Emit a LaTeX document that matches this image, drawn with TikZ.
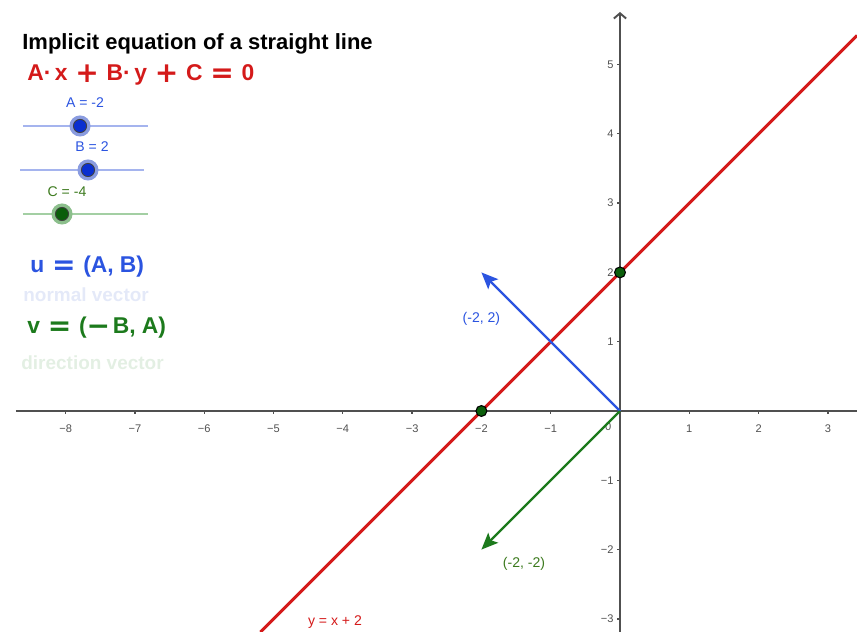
\documentclass[tikz,border=0pt]{standalone}
\usepackage[no-math]{fontspec}
\setmainfont{Liberation Sans}
\newfontfamily\opfont{DejaVu Sans}
\usetikzlibrary{arrows.meta}

\definecolor{axisgray}{HTML}{505050}
\definecolor{ggred}{HTML}{D41A1A}
\definecolor{ggblue}{HTML}{2B54E0}
\definecolor{gggreen}{HTML}{1C7A1C}
\definecolor{ptgreen}{HTML}{0B5E0B}
\definecolor{lineblue}{HTML}{A5B4EE}
\definecolor{linegreen}{HTML}{A3CFA3}
\definecolor{knobblue}{HTML}{0A2FD0}
\definecolor{haloblue}{HTML}{8A9CE0}
\definecolor{halogreen}{HTML}{8CBF8C}
\definecolor{fadeblue}{HTML}{E4E9F8}
\definecolor{fadegreen}{HTML}{E3EFE3}
\definecolor{labelgreen}{HTML}{3C7A1E}

% wide bold operators for the formulas
\newcommand{\opgap}{\hspace{4.4pt}}
\newcommand{\opsym}[1]{\raisebox{-1.1pt}{\opfont\bfseries\fontsize{16}{16}\selectfont #1}}
\newcommand{\bplus}{\opgap\opsym{+}\opgap}
\newcommand{\beq}{\opgap\opsym{=}\opgap}
\newcommand{\bminus}{\opsym{−}\hspace{1.5pt}}

\begin{document}
\begin{tikzpicture}[
  x=1.386cm, y=1.386cm,
  every node/.style={font=\fontsize{8}{9.6}\selectfont, inner sep=0pt},
  axis/.style={draw=axisgray, line width=1.1pt},
  tick/.style={draw=axisgray, line width=0.7pt},
  ticklabel/.style={font=\fontsize{6.3}{7.5}\selectfont, text=axisgray},
  redline/.style={draw=ggred, line width=1.7pt},
  vec/.style={line width=1.3pt, -{Stealth[length=9.5pt, width=8pt, inset=2pt]}},
  pt/.style={circle, draw=black, fill=ptgreen, line width=0.6pt, minimum size=6.2pt},
  halo/.style={circle, minimum size=12pt},
  knob/.style={circle, draw=black!75, line width=0.5pt, minimum size=7.5pt},
  slider/.style={line width=1.1pt},
  bigtext/.style={font=\bfseries\fontsize{13}{15}\selectfont, anchor=west},
  fadetext/.style={font=\bfseries\fontsize{10.8}{12}\selectfont, anchor=west}
]

% Page frame
\useasboundingbox (-8.947, -3.189) rectangle (3.420, 5.931);

% Axes
\coordinate (xl) at (-8.716, 0);
\coordinate (xr) at (3.420, 0);
\coordinate (yb) at (0, -3.189);
\coordinate (yt) at (0, 5.758);
\draw[axis] (xl) -- (xr);
\draw[axis, -{Straight Barb[length=3pt, width=7pt]}] (yb) -- (yt);

% Ticks and tick labels
\foreach \x/\t in {-8/−8, -7/−7, -6/−6, -5/−5, -4/−4, -3/−3, -2/−2, -1/−1, 1/1, 2/2, 3/3} {
  \draw[tick] (\x, 0) -- (\x, -0.05);
  \node[ticklabel] (xt\x) at (\x, -0.25) {\t};
}
\foreach \y/\t in {-3/−3, -2/−2, -1/−1, 1/1, 2/2, 3/3, 4/4, 5/5} {
  \draw[tick] (0, \y) -- (-0.05, \y);
  \node[ticklabel, anchor=east] (yt\y) at (-0.09, \y) {\t};
}
\node[ticklabel] (zero) at (-0.17, -0.23) {0};

% Line y = x + 2
\coordinate (la) at (-5.189, -3.189);
\coordinate (lb) at (3.420, 5.420);
\draw[redline] (la) -- (lb);

% Vectors
\coordinate (O) at (0, 0);
\coordinate (U) at (-2, 2);
\coordinate (V) at (-2, -2);
\draw[vec, ggblue] (O) -- (U);
\draw[vec, gggreen] (O) -- (V);

% Intersection points
\node[pt] (px) at (-2, 0) {};
\node[pt] (py) at (0, 2) {};

% Labels in the graph
\node[text=ggblue] (ulab) at (-2.00, 1.33) {(-2, 2)};
\node[text=labelgreen] (vlab) at (-1.385, -2.21) {(-2, -2)};
\node[text=ggred] (llab) at (-4.113, -3.045) {y = x + 2};

% Title and equation
\node[font=\bfseries\fontsize{12.5}{15}\selectfont, anchor=west] (title) at (-8.629, 5.296) {Implicit equation of a straight line};
\node[bigtext, text=ggred] (eqn) at (-8.557, 4.848) {A\textperiodcentered\hspace{2pt}x\bplus B\textperiodcentered\hspace{2pt}y\bplus C\beq 0};

% Slider A
\coordinate (sAl) at (-8.615, 4.113);
\coordinate (sAr) at (-6.811, 4.113);
\draw[slider, lineblue] (sAl) -- (sAr);
\node[halo, fill=haloblue] (hA) at (-7.792, 4.113) {};
\node[knob, fill=knobblue] (kA) at (hA) {};
\node[text=ggblue] (tA) at (-7.720, 4.444) {A = -2};

% Slider B
\coordinate (sBl) at (-8.658, 3.478);
\coordinate (sBr) at (-6.869, 3.478);
\draw[slider, lineblue] (sBl) -- (sBr);
\node[halo, fill=haloblue] (hB) at (-7.677, 3.478) {};
\node[knob, fill=knobblue] (kB) at (hB) {};
\node[text=ggblue] (tB) at (-7.619, 3.810) {B = 2};

% Slider C
\coordinate (sCl) at (-8.615, 2.843);
\coordinate (sCr) at (-6.811, 2.843);
\draw[slider, linegreen] (sCl) -- (sCr);
\node[halo, fill=halogreen] (hC) at (-8.052, 2.843) {};
\node[knob, fill=ptgreen] (kC) at (hC) {};
\node[text=labelgreen] (tC) at (-7.980, 3.160) {C = -4};

% Vector formulas
\node[bigtext, text=ggblue] (uform) at (-8.514, 2.078) {u\beq(A,\hspace{3.5pt}B)};
\node[fadetext, text=fadeblue] (unote) at (-8.615, 1.674) {normal vector};
\node[bigtext, text=gggreen] (vform) at (-8.557, 1.198) {v\beq(\bminus B,\hspace{3.5pt}A)};
\node[fadetext, text=fadegreen] (vnote) at (-8.644, 0.693) {direction vector};

\end{tikzpicture}
\end{document}
